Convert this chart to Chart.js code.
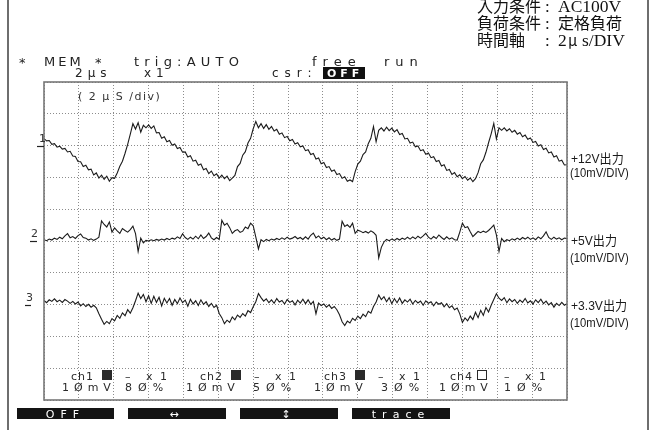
<!DOCTYPE html>
<html>
<head>
<meta charset="utf-8">
<script src="https://cdn.jsdelivr.net/npm/chart.js@4.4.1/dist/chart.umd.min.js"></script>
<style>
  html, body { margin: 0; padding: 0; background: #fff; }
  #scope { display: block; }
</style>
</head>
<body>
<canvas id="scope" width="654" height="430"></canvas>
<script>
// Memory capture: 2 us/div, 15 divisions, one sample every 0.15 us.
const sampleStepUs = 0.15;
const timeSpanUs = 30;
const timeDivUs = 2;

// Ripple on each output, in mV relative to the channel's trace position.
const ripple12V = [
  2.2, 1.5, 1.6, 0.4, 0.6, -0.5, -0.2, -1.1, -0.9, -2.0,
  -1.8, -3.3, -3.4, -5.0, -5.1, -6.6, -6.2, -7.6, -7.4, -9.2,
  -8.6, -10.2, -9.3, -10.6, -9.6, -11.2, -10.1, -10.3, -8.6, -6.5,
  -4.9, -2.4, 0.4, 3.6, 6.9, 5.2, 7.2, 4.2, 6.4, 5.6,
  6.5, 5.4, 6.2, 4.0, 4.1, 2.3, 2.8, 1.2, 1.6, 0.1,
  0.5, -0.9, -0.6, -2.1, -2.0, -3.6, -3.2, -4.9, -4.6, -6.2,
  -5.8, -7.6, -7.2, -8.8, -8.0, -9.5, -8.9, -10.2, -9.3, -10.4,
  -9.6, -11.0, -10.2, -9.4, -6.6, -5.6, -3.0, -1.9, 0.8, 2.3,
  5.3, 7.6, 5.6, 6.9, 5.4, 6.6, 5.1, 6.0, 4.6, 5.1,
  3.6, 4.0, 2.5, 2.9, 1.5, 1.9, 0.5, 0.9, -0.4, -0.1,
  -1.6, -1.3, -2.8, -2.5, -4.2, -3.9, -5.7, -5.3, -6.9, -6.6,
  -8.1, -7.7, -9.1, -8.8, -10.3, -9.8, -11.2, -10.8, -11.3, -8.2,
  -5.8, -4.9, -2.8, -2.0, 0.6, 2.3, 6.0, 1.2, 4.8, 5.6,
  4.6, 5.8, 4.7, 5.5, 4.3, 5.0, 3.5, 3.8, 2.1, 2.3,
  0.8, 1.1, -0.4, -0.1, -1.6, -1.3, -2.7, -2.3, -3.8, -3.5,
  -5.0, -4.7, -6.4, -6.0, -7.8, -7.5, -9.1, -8.5, -9.8, -9.2,
  -10.4, -9.7, -10.9, -10.2, -11.3, -10.4, -8.5, -5.7, -4.5, -2.1,
  0.9, 3.7, 7.0, 2.1, 5.6, 4.8, 5.6, 4.6, 5.3, 4.2,
  4.8, 3.6, 4.1, 2.8, 3.3, 2.0, 2.4, 1.0, 1.3, -0.1,
  0.3, -1.2, -0.8, -2.3, -2.0, -3.6, -3.2, -4.9, -4.6, -6.1,
  -6.0
];

const ripple5V = [
  0.4, 0.1, 0.6, 0.3, 0.9, 0.5, 1.2, 0.7, 1.6, 2.3,
  1.0, 1.4, 0.8, 1.7, 2.2, 1.1, 0.9, 0.3, 0.7, 0.2,
  0.6, 1.2, 6.3, 5.2, 4.4, 6.0, 2.8, 4.1, 3.2, 2.4,
  3.9, 3.3, 2.8, 3.6, 4.7, 2.3, -3.3, 0.9, -0.6, 0.2,
  0.0, 0.4, 0.1, 0.5, 0.2, 0.6, 0.3, 0.8, 0.4, 0.9,
  0.6, 1.3, 0.8, 2.3, 1.1, 0.5, 1.2, 0.6, 1.5, 0.7,
  1.9, 0.8, 1.4, 2.5, 1.0, 0.4, 1.1, 0.5, 6.5, 5.0,
  5.6, 4.2, 2.4, 3.2, 3.6, 2.7, 3.1, 4.4, 3.9, 5.6,
  4.8, 1.2, -2.5, 0.4, -0.2, 0.5, 0.1, 0.6, 0.3, 0.8,
  0.4, 1.0, 0.5, 1.2, 0.6, 0.9, 1.4, 0.7, 1.1, 0.5,
  1.3, 0.6, 1.8, 2.5, 1.0, 1.6, 0.7, 1.2, 0.4, 1.0,
  0.3, 0.8, 0.2, 0.6, 6.2, 4.6, 5.1, 4.3, 5.6, 2.4,
  3.4, 3.1, 2.6, 3.0, 2.5, 3.2, 2.7, 1.8, -5.3, -2.0,
  -0.3, 0.5, 0.1, 0.6, 0.2, 0.8, 0.3, 0.9, 0.5, 1.2,
  0.6, 1.3, 0.7, 1.5, 0.9, 1.6, 2.4, 1.2, 0.6, 1.4,
  0.8, 1.9, 1.1, 0.5, 1.3, 0.6, 1.0, 0.4, 0.3, 2.8,
  5.6, 4.2, 4.5, 2.9, 1.4, 2.2, 3.0, 2.6, 3.1, 2.7,
  3.3, 4.1, 5.0, 1.9, -3.3, 0.8, -0.2, 0.4, 0.1, 0.7,
  0.3, 0.9, 0.4, 1.1, 0.6, 1.2, 0.5, 1.0, 0.4, 1.3,
  0.7, 1.6, 2.9, 1.1, 0.5, 1.2, 0.6, 1.0, 0.4, 0.9,
  0.8
];

const ripple3V3 = [
  1.3, 0.6, 1.5, 1.0, 1.8, 0.9, 1.4, 0.7, 1.6, 1.1,
  0.4, 1.0, 0.2, 0.8, -0.4, 0.3, -0.6, 0.1, -0.8, -0.2,
  -1.0, -2.9, -4.6, -6.2, -5.3, -6.0, -4.4, -5.1, -3.4, -4.3,
  -2.6, -3.5, -1.6, -2.7, -1.0, 1.2, 3.6, 1.9, 3.2, 0.9,
  2.8, 0.4, 2.6, 0.7, 2.3, -0.4, 2.0, 0.5, 1.9, -0.2,
  1.6, 0.3, 2.1, 0.6, 1.4, -0.5, 1.7, 0.2, 1.2, -0.3,
  1.5, 0.1, 0.9, -0.6, 0.4, -0.9, -0.2, -2.8, -4.1, -6.0,
  -4.9, -5.6, -3.9, -4.8, -3.3, -4.0, -2.8, -3.6, -1.9, -2.5,
  -0.7, 0.9, 3.5, 2.2, 1.1, 1.8, 0.6, 1.5, 0.4, 1.9,
  0.8, 1.3, 0.2, 1.6, 0.7, 1.2, -0.1, 1.4, 0.5, 1.7,
  0.3, 1.5, 0.1, 1.0, -2.9, 0.5, -0.3, 0.2, -0.8, -0.1,
  -1.2, -0.6, -1.6, -3.2, -5.4, -6.6, -5.2, -5.8, -4.3, -5.0,
  -3.6, -4.4, -3.0, -3.8, -2.1, -2.7, -0.6, 0.8, 3.0, 1.6,
  2.5, 0.9, 2.2, 0.3, 1.9, 0.6, 2.1, 0.4, 1.5, 0.8,
  1.7, 0.2, 1.3, 0.5, 1.1, -0.2, 1.2, 0.4, 0.9, -0.4,
  0.8, 0.1, 0.6, -0.7, 0.3, -1.0, -0.4, -1.6, -1.1, -2.9,
  -5.6, -4.2, -5.1, -3.6, -4.7, -2.4, -4.1, -1.8, -3.4, -0.9,
  -2.3, -0.2, 1.6, 3.4, 2.0, 1.3, 2.2, 0.6, 1.8, 0.9,
  1.6, 0.4, 1.4, 0.7, 1.9, 0.5, 1.2, 0.2, 1.5, 0.6,
  1.7, 0.3, 1.1, -0.1, 0.6, -0.8, 0.4, -0.3, 0.7, -0.2,
  0.3
];

// Channel setup as shown in the status area.
const channelNames = ['ch1', 'ch2', 'ch3', 'ch4'];
const channelVolts = ['1ØmV', '1ØmV', '1ØmV', '1ØmV'];
const channelPositions = [80, 50, 30, 10];     // trace position, % of screen height
const channelPosLabels = ['8Ø%', '5Ø%', '3Ø%', '1Ø%'];
const channelOn = [true, true, true, false];
const outputLabels = ['+12V出力', '+5V出力', '+3.3V出力'];
const outputScale = '(10mV/DIV)';
const mVPerDiv = 10;

// Screen is 10 divisions tall; with 10 mV/div one percent equals one mV.
function toPoints(values, position) {
  return values.map((v, i) => ({ x: +(i * sampleStepUs).toFixed(2), y: position + v }));
}

const traceStyle = {
  borderColor: '#1b1b1b',
  borderWidth: 1.1,
  pointRadius: 0,
  tension: 0,
  fill: false
};

function spaced(ctx, text, x, y, spacing, align) {
  ctx.letterSpacing = spacing + 'px';
  ctx.textAlign = align || 'left';
  ctx.fillText(text, x, y);
  ctx.letterSpacing = '0px';
}

function narrow(ctx, text, x, y, sx) {
  ctx.save();
  ctx.translate(x, y);
  ctx.scale(sx, 1);
  ctx.textAlign = 'left';
  ctx.fillText(text, 0, 0);
  ctx.restore();
}

const scopeDecor = {
  id: 'scopeDecor',
  afterDatasetsDraw(chart) {
    const { ctx, chartArea: a, scales } = chart;
    const ys = scales.y;
    ctx.save();

    // outer panel edges
    ctx.strokeStyle = '#6e6e6e';
    ctx.lineWidth = 2;
    ctx.beginPath();
    ctx.moveTo(8, 0); ctx.lineTo(8, 430);
    ctx.moveTo(648, 0); ctx.lineTo(648, 430);
    ctx.stroke();

    // screen frame
    ctx.strokeStyle = '#777';
    ctx.lineWidth = 1.6;
    ctx.strokeRect(a.left, a.top, a.right - a.left, a.bottom - a.top);

    // condition notes, upper right
    ctx.fillStyle = '#111';
    ctx.textBaseline = 'alphabetic';
    ctx.font = '16px "Noto Sans CJK JP"';
    ctx.fillText('入力条件', 477, 12);
    ctx.fillText('負荷条件', 477, 29);
    ctx.fillText('時間軸', 477, 46);
    ctx.font = '17px "Liberation Serif"';
    ctx.fillText(':', 545, 12);
    ctx.fillText(':', 545, 29);
    ctx.fillText(':', 545, 46);
    ctx.font = '16px "Noto Sans CJK JP"';
    ctx.fillText('定格負荷', 558, 29);
    ctx.font = '17.5px "Liberation Serif"';
    ctx.fillText('AC100V', 558, 12);
    ctx.fillText('2', 558, 46);
    ctx.font = '15px "Noto Sans CJK JP"';
    ctx.fillText('μ', 568, 46);
    ctx.font = '17.5px "Liberation Serif"';
    ctx.fillText('s/DIV', 582, 46);

    // status lines
    ctx.fillStyle = '#222';
    ctx.font = '13px "DejaVu Sans"';
    spaced(ctx, '*', 19, 67, 0);
    spaced(ctx, 'MEM', 44, 66, 3);
    spaced(ctx, '*', 95, 67, 0);
    spaced(ctx, 'trig:AUTO', 134, 66, 5.2);
    spaced(ctx, 'free', 312, 66, 6);
    spaced(ctx, 'run', 384, 66, 6);
    ctx.font = '12px "DejaVu Sans"';
    spaced(ctx, '2µs', 75, 77, 5);
    spaced(ctx, 'x1', 144, 77, 5);
    spaced(ctx, 'csr:', 272, 77, 6);
    ctx.fillStyle = '#111';
    ctx.fillRect(323, 67, 42, 12);
    ctx.fillStyle = '#fff';
    ctx.font = 'bold 11px "DejaVu Sans"';
    spaced(ctx, 'OFF', 327, 77, 4);

    // time base note inside the screen
    ctx.fillStyle = '#333';
    ctx.font = '11px "DejaVu Sans"';
    spaced(ctx, '( 2 µ S /div)', 78, 100, 1.5);

    // channel numbers and reference marks on the left edge
    const markX = [[37, 44, 39], [30, 37, 31], [25, 31, 26]];
    ctx.strokeStyle = '#222';
    ctx.lineWidth = 1.2;
    for (let c = 0; c < 3; c++) {
      const py = Math.round(ys.getPixelForValue(channelPositions[c])) + 0.5;
      ctx.beginPath();
      ctx.moveTo(markX[c][0], py);
      ctx.lineTo(markX[c][1], py);
      ctx.stroke();
      ctx.fillStyle = '#333';
      ctx.font = '11px "DejaVu Sans"';
      ctx.fillText(String(c + 1), markX[c][2], py - 5);
    }

    // output names on the right
    ctx.fillStyle = '#1a1a1a';
    const labelBase = [[163, 177], [245, 262], [310, 327]];
    for (let c = 0; c < 3; c++) {
      ctx.font = '13px "Liberation Sans", "Noto Sans CJK JP"';
      narrow(ctx, outputLabels[c], 571, labelBase[c][0], 0.93);
      ctx.font = '12.5px "Liberation Sans"';
      narrow(ctx, outputScale, 570, labelBase[c][1], 0.9);
    }

    // channel settings row at the bottom of the screen
    ctx.fillStyle = '#2a2a2a';
    ctx.font = '11px "DejaVu Sans"';
    const colX = [71, 200, 324, 450];
    const voltX = [62, 186, 314, 439];
    const posX = [125, 253, 381, 504];
    for (let c = 0; c < 4; c++) {
      const x0 = colX[c];
      spaced(ctx, channelNames[c], x0, 380, 1);
      if (channelOn[c]) {
        ctx.fillRect(x0 + 31, 370, 10, 10);
      } else {
        ctx.strokeStyle = '#2a2a2a';
        ctx.lineWidth = 1;
        ctx.strokeRect(x0 + 27.5, 370.5, 9, 9);
      }
      spaced(ctx, '–', x0 + 54, 380, 0);
      spaced(ctx, 'x 1', x0 + 75, 380, 2);
      spaced(ctx, channelVolts[c], voltX[c], 391, 5);
      spaced(ctx, channelPosLabels[c], posX[c], 391, 6);
    }

    // soft-key bar
    const keys = [['OFF', 17, 114], ['↔', 128, 226], ['↕', 240, 338], ['trace', 352, 450]];
    ctx.font = '11px "DejaVu Sans"';
    for (const [t, x1, x2] of keys) {
      ctx.fillStyle = '#141414';
      ctx.fillRect(x1, 408, x2 - x1, 11);
      ctx.fillStyle = '#fff';
      spaced(ctx, t, (x1 + x2) / 2, 418, 6, 'center');
    }
    ctx.restore();
  }
};

const gridAxis = (min, max, step) => ({
  type: 'linear',
  min, max,
  ticks: { display: false, stepSize: step },
  grid: { color: '#8c8c8c', lineWidth: 1, drawTicks: false },
  border: { display: false, dash: [1, 2] },
  afterFit(scale) {
    if (scale.isHorizontal()) scale.height = 0; else scale.width = 0;
  }
});

new Chart(document.getElementById('scope'), {
  type: 'line',
  data: {
    datasets: [
      { label: outputLabels[0], data: toPoints(ripple12V, channelPositions[0]), ...traceStyle },
      { label: outputLabels[1], data: toPoints(ripple5V, channelPositions[1]), ...traceStyle },
      { label: outputLabels[2], data: toPoints(ripple3V3, channelPositions[2]), ...traceStyle }
    ]
  },
  options: {
    responsive: false,
    animation: false,
    devicePixelRatio: 1,
    layout: { padding: { left: 44, top: 82, right: 87, bottom: 30 } },
    plugins: { legend: { display: false }, tooltip: { enabled: false } },
    scales: {
      x: gridAxis(0, timeSpanUs, timeDivUs),
      y: gridAxis(0, 10 * mVPerDiv, mVPerDiv)
    }
  },
  plugins: [scopeDecor]
});
</script>
</body>
</html>
